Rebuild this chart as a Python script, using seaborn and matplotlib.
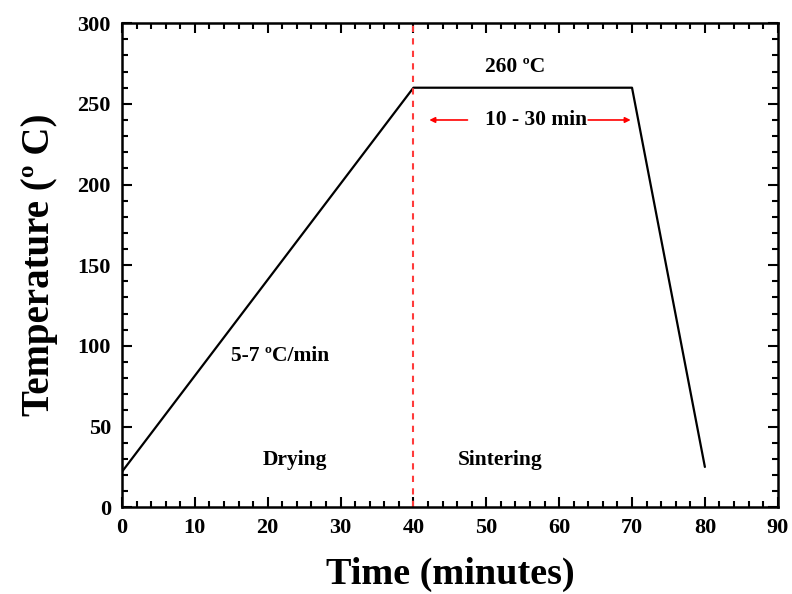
import matplotlib
matplotlib.use("Agg")
import matplotlib.pyplot as plt
import seaborn as sns
import pandas as pd
from matplotlib.ticker import MultipleLocator

sns.set_theme(style="ticks")
plt.rcParams['font.family'] = ['Liberation Serif', 'DejaVu Serif']
plt.rcParams['font.weight'] = 'bold'
for k in ['text.color', 'axes.labelcolor', 'xtick.color', 'ytick.color', 'axes.edgecolor']:
    plt.rcParams[k] = 'black'

time = [0, 40, 70, 80]
temp = [22, 260, 260, 25]
df = pd.DataFrame({"time": time, "temp": temp})

fig, ax = plt.subplots(figsize=(7.92, 5.94), dpi=100)
fig.subplots_adjust(left=0.154, right=0.982, top=0.961, bottom=0.146)

sns.lineplot(data=df, x="time", y="temp", color="black", linewidth=1.6, ax=ax, sort=False)
ax.axvline(40, color="#ff3b3b", linestyle=(0, (3, 3)), linewidth=1.5)

ax.set_xlim(0, 90)
ax.set_ylim(0, 300)
ax.xaxis.set_major_locator(MultipleLocator(10))
ax.xaxis.set_minor_locator(MultipleLocator(2))
ax.yaxis.set_major_locator(MultipleLocator(50))
ax.yaxis.set_minor_locator(MultipleLocator(10))
ax.tick_params(which="both", direction="in", top=True, right=True, width=1.5, colors="black")
ax.tick_params(which="major", length=7, labelsize=16, pad=8)
ax.tick_params(which="minor", length=4)
for lab in ax.get_xticklabels() + ax.get_yticklabels():
    lab.set_fontweight("bold")
for s in ax.spines.values():
    s.set_linewidth(1.8)
    s.set_color("black")

ax.set_xlabel("Time (minutes)", fontsize=27.5, fontweight="bold", labelpad=13)
ax.set_ylabel("Temperature (º C)", fontsize=28, fontweight="bold", labelpad=14)

fs = 15.5
ax.text(54, 273, "260 ºC", fontsize=fs, fontweight="bold", ha="center", va="center")
ax.text(21.7, 94, "5-7 ºC/min", fontsize=fs, fontweight="bold", ha="center", va="center")
ax.text(23.7, 29, "Drying", fontsize=fs, fontweight="bold", ha="center", va="center")
ax.text(51.9, 29, "Sintering", fontsize=fs, fontweight="bold", ha="center", va="center")
ax.text(56.8, 240, "10 - 30 min", fontsize=fs, fontweight="bold", ha="center", va="center")
ax.annotate("", xy=(41.8, 240), xytext=(47.8, 240),
            arrowprops=dict(arrowstyle="-|>", color="red", lw=1.2, mutation_scale=8))
ax.annotate("", xy=(70.2, 240), xytext=(63.6, 240),
            arrowprops=dict(arrowstyle="-|>", color="red", lw=1.2, mutation_scale=8))

fig.savefig("out.png", dpi=100)
